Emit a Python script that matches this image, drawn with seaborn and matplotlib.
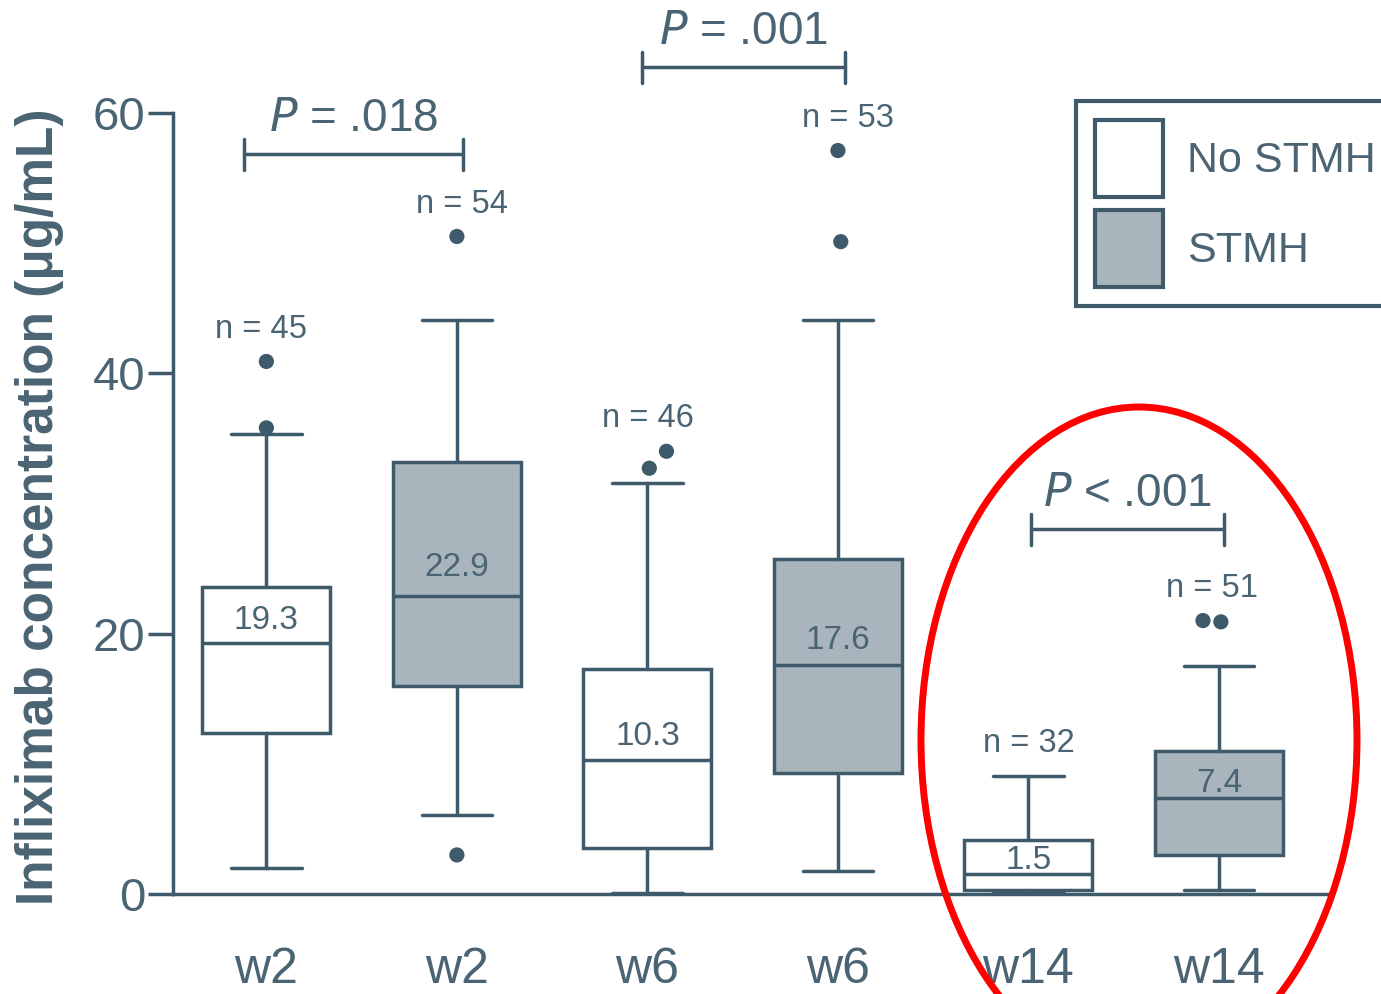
import matplotlib
matplotlib.use("Agg")
import matplotlib.pyplot as plt
import seaborn as sns
import numpy as np
import pandas as pd
from matplotlib.patches import Patch, Ellipse

# ---------------- data ----------------
weeks = ["w2", "w2", "w6", "w6", "w14", "w14"]
status = ["No STMH", "STMH", "No STMH", "STMH", "No STMH", "STMH"]
n_obs = [45, 54, 46, 53, 32, 51]
medians = [19.3, 22.9, 10.3, 17.6, 1.5, 7.4]
q1 = [12.4, 16.0, 3.5, 9.3, 0.3, 3.0]
q3 = [23.6, 33.2, 17.3, 25.7, 4.15, 11.0]
whis_lo = [2.0, 6.1, 0.1, 1.8, 0.2, 0.3]
whis_hi = [35.3, 44.1, 31.6, 44.1, 9.1, 17.5]
fliers = [[40.9, 35.8], [50.5, 3.0], [32.7, 34.0], [57.1, 50.1], [], [21.0, 20.9]]
comparisons = [(0, 1, "P = .018", 56.8), (2, 3, "P = .001", 63.5), (4, 5, "P < .001", 28.0)]

# ---------------- layout / style tweaks ----------------
flier_dx = [[0, 0], [0, 0], [0.01, 0.1], [0, 0.015], [], [-0.084, 0.01]]
n_label_dx = [-0.03, 0.026, 0.0, 0.05, 0.0, -0.037]
median_label_off = [1.74, 2.2, 1.77, 1.9, 1.1, 1.1]
bracket_ends = [(-0.116, 0.03), (-0.026, 0.036), (0.015, 0.025)]

sns.set_theme(style="white")
plt.rcParams["font.family"] = ["Liberation Sans", "DejaVu Sans"]
LINE = "#3e5a6b"
FILL = "#a9b5bc"
TEXT = "#4a6474"
lw = 2.5

fig = plt.figure(figsize=(13.81, 9.94), dpi=100)
ax = fig.add_axes([173 / 1381, 100 / 994, (1327 - 173) / 1381, 894 / 994])

positions = np.arange(len(weeks))
stats = []
for i in range(len(weeks)):
    stats.append(dict(med=medians[i], q1=q1[i], q3=q3[i], whislo=whis_lo[i],
                      whishi=whis_hi[i], fliers=[], label=weeks[i]))

bp = ax.bxp(stats, positions=positions, widths=0.672, capwidths=0.37,
            patch_artist=True, showfliers=False,
            boxprops=dict(edgecolor=LINE, linewidth=lw),
            medianprops=dict(color=LINE, linewidth=lw),
            whiskerprops=dict(color=LINE, linewidth=lw),
            capprops=dict(color=LINE, linewidth=lw))
for i, box in enumerate(bp["boxes"]):
    box.set_facecolor("white" if status[i] == "No STMH" else FILL)

# fliers
fx, fy = [], []
for i, (vals, dxs) in enumerate(zip(fliers, flier_dx)):
    for v, d in zip(vals, dxs):
        fx.append(positions[i] + d)
        fy.append(v)
sns.scatterplot(x=fx, y=fy, ax=ax, color=LINE, s=120, edgecolor="none", zorder=5)

# n labels
for i in range(len(weeks)):
    top = max([whis_hi[i]] + fliers[i])
    ax.text(positions[i] + n_label_dx[i], top + 1.3, f"n = {n_obs[i]}", ha="center",
            va="bottom", fontsize=23.5, color=TEXT)

# median labels
for i in range(len(weeks)):
    ax.text(positions[i], medians[i] + median_label_off[i], f"{medians[i]}",
            ha="center", va="center", fontsize=24, color=TEXT)

# significance brackets
for (a, b, lab, h), (da, db) in zip(comparisons, bracket_ends):
    x0, x1 = positions[a] + da, positions[b] + db
    ax.plot([x0, x1], [h, h], color=LINE, lw=lw, clip_on=False)
    ax.plot([x0, x0], [h - 1.2, h + 1.2], color=LINE, lw=lw, clip_on=False)
    ax.plot([x1, x1], [h - 1.2, h + 1.2], color=LINE, lw=lw, clip_on=False)
    parts = lab.split(" ", 1)
    ax.text((x0 + x1) / 2, h + 1.0, r"$\mathit{P}$" + " " + parts[1], ha="center",
            va="bottom", fontsize=33, color=TEXT)

# axes
ax.set_xlim(-0.49, 5.567)
ax.set_ylim(0, 68.66)
ax.set_yticks([0, 20, 40, 60])
ax.set_xticks(positions)
ax.set_xticklabels(weeks)
ax.spines["top"].set_visible(False)
ax.spines["right"].set_visible(False)
ax.spines["left"].set_bounds(0, 60)
for s in ["left", "bottom"]:
    ax.spines[s].set_color(LINE)
    ax.spines[s].set_linewidth(lw)
ax.tick_params(axis="y", length=18, width=lw, color=LINE, labelsize=34,
               labelcolor=TEXT, pad=2, left=True)
ax.tick_params(axis="x", length=0, labelsize=36, labelcolor=TEXT, pad=38)
ax.set_ylabel("Infliximab concentration (μg/mL)", fontsize=37, fontweight="bold",
              color=TEXT)
ax.yaxis.set_label_coords(-0.0945, 0.433)
ax.set_facecolor("white")

# legend
handles = [Patch(facecolor="white", edgecolor=LINE, linewidth=3, label="No STMH"),
           Patch(facecolor=FILL, edgecolor=LINE, linewidth=3, label="STMH")]
leg = fig.legend(handles=handles, loc="upper left",
                 bbox_to_anchor=(1076 / 1381, 1 - 101 / 994),
                 fontsize=31, frameon=True, fancybox=False, framealpha=1,
                 handlelength=1.58, handleheight=2.38, labelspacing=0.3,
                 borderpad=0.44, handletextpad=0.56, borderaxespad=0)
leg.get_frame().set_edgecolor(LINE)
leg.get_frame().set_linewidth(3)
for t in leg.get_texts():
    t.set_color(TEXT)

# red annotation ellipse
ell = Ellipse((1139 / 1381, 1 - 740 / 994), 436 / 1381, 666 / 994,
              transform=fig.transFigure, fill=False, edgecolor="red", linewidth=5,
              zorder=10)
fig.patches.append(ell)

fig.savefig("out.png", dpi=100)
